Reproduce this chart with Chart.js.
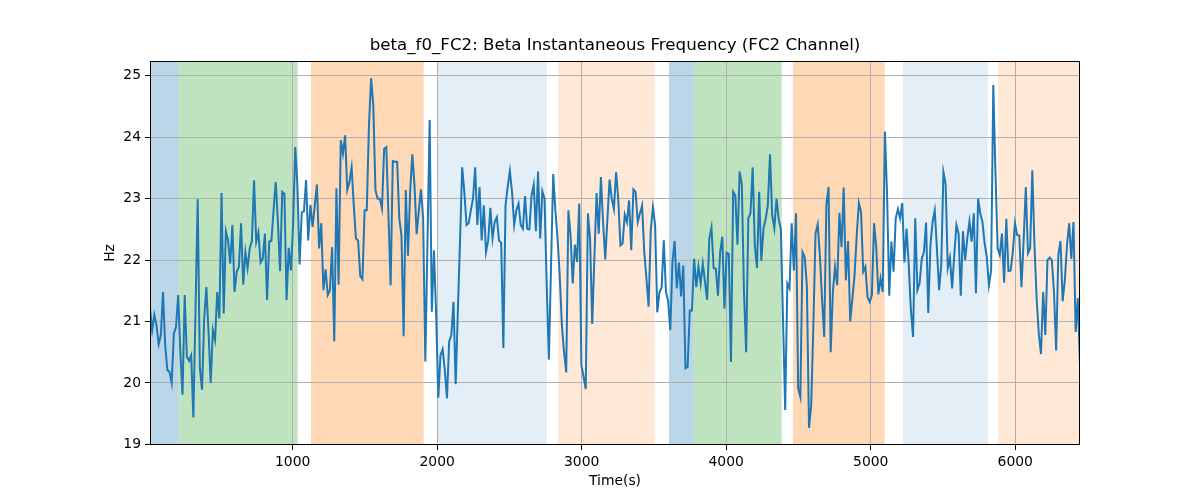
<!DOCTYPE html>
<html>
<head>
<meta charset="utf-8">
<script src="https://cdn.jsdelivr.net/npm/chart.js@4.4.1/dist/chart.umd.min.js"></script>
<style>
  html, body { margin: 0; padding: 0; background: #fff; }
  canvas { display: block; }
</style>
</head>
<body>
<canvas id="freqChart" width="1200" height="500"></canvas>
<script>
// Beta instantaneous frequency, FC2 channel (Hz), one sample every 15 s
const hzValues = [
    21.2, 20.86, 21.11, 20.94, 20.63, 20.78, 21.48, 20.62, 20.21, 20.18,
    20.0, 20.8, 20.91, 21.43, 20.5, 19.81, 21.43, 20.43, 20.36, 20.45,
    19.44, 21.2, 22.99, 20.24, 19.89, 21.05, 21.56, 20.83, 20.0, 20.86,
    20.7, 21.48, 21.05, 23.09, 21.13, 22.47, 22.32, 21.94, 22.57, 21.48,
    21.81, 21.89, 22.6, 21.6, 22.13, 21.87, 22.19, 22.31, 23.3, 22.3,
    22.45, 21.96,
    22.02, 22.43, 21.35, 22.3, 22.31, 22.81, 23.27, 22.62, 21.82, 23.11,
    23.08, 21.35, 22.2, 21.83, 22.57, 23.84, 23.22, 21.93, 22.78, 22.79,
    23.3, 22.32, 22.9, 22.54, 22.89, 23.23, 22.19, 22.6, 21.51, 21.85,
    21.43, 21.51, 22.21, 20.68, 23.17, 21.6, 23.95, 23.73, 24.03, 23.14,
    23.27, 23.51, 22.89, 22.35, 22.32, 21.74, 21.69, 22.81, 22.81, 24.19,
    24.96, 24.52, 23.14,
    23.0, 23.0, 22.84, 23.81, 23.84, 22.73, 21.59, 23.61, 23.6, 23.6,
    22.67, 22.4, 20.76, 23.14, 22.07, 23.11, 23.72, 23.22, 22.42, 22.81,
    23.15, 22.67, 20.35, 22.3, 24.28, 21.16, 22.16, 21.1, 19.76, 20.45,
    20.55, 20.21, 19.75, 20.67, 20.78, 21.32, 19.98, 21.16, 22.3, 23.51,
    23.11, 22.57, 22.6, 22.81, 23.0, 23.51, 22.57, 23.19, 22.32, 22.89,
    22.13, 22.32, 22.85, 22.35,
    22.62, 22.7, 22.32, 22.28, 20.57, 22.89, 23.19, 23.45, 23.11, 22.57,
    22.81, 22.92, 22.57, 22.51, 23.04, 22.51, 22.5, 23.05, 23.23, 22.47,
    23.44, 22.35, 23.12, 23.0, 21.59, 20.38, 21.92, 23.4, 22.81, 22.35,
    21.75, 20.94, 20.5, 20.17, 22.81, 22.4, 21.62, 22.25, 21.97, 22.92,
    20.29, 20.1, 19.9, 22.76, 22.35, 20.96, 22.05, 23.09, 22.43, 23.35,
    22.62, 22.01, 22.67, 23.31,
    23.0, 22.83, 23.43, 23.0, 22.24, 22.27, 22.74, 22.62, 22.97, 22.16,
    23.15, 23.11, 22.62, 22.76, 22.89, 22.13, 21.7, 21.24, 22.49, 22.86,
    22.57, 21.15, 21.48, 21.55, 22.32, 21.48, 21.34, 20.86, 21.97, 22.31,
    21.54, 21.96, 21.41, 21.91, 20.24, 20.26, 21.18, 21.18, 22.02, 21.56,
    21.89, 21.62, 21.94, 21.65, 21.35, 22.35, 22.53, 21.87, 21.86, 21.42,
    22.13, 22.38, 21.21,
    22.12, 22.1, 20.34, 23.11, 23.05, 22.25, 23.44, 23.23, 21.48, 20.5,
    22.68, 22.76, 23.51, 22.24, 21.87, 23.11, 21.99, 22.51, 22.67, 22.89,
    23.72, 22.73, 22.52, 23.0, 22.67, 22.51, 21.05, 19.56, 21.62, 21.54,
    22.6, 21.83, 22.76, 19.91, 19.77, 22.13, 22.05, 21.59, 19.27, 19.64,
    20.94, 22.43, 22.58, 22.08, 21.37, 20.75, 22.89, 23.19, 20.5, 21.48,
    21.89, 21.59, 22.77, 22.21,
    23.18, 21.67, 22.31, 21.0, 21.37, 21.75, 22.4, 22.93, 22.78, 21.81,
    21.89, 21.4, 21.32, 21.43, 22.6, 22.21, 21.44, 21.7, 21.48, 24.09,
    23.08, 21.42, 22.3, 21.81, 22.68, 22.83, 22.68, 22.93, 21.96, 22.51,
    21.92, 21.18, 20.75, 22.68, 21.51, 21.62, 22.02, 22.13, 22.61, 21.14,
    22.24, 22.62, 22.81, 22.19, 21.51, 21.92, 23.43, 23.24, 21.87, 22.04,
    21.54, 22.08, 22.57,
    22.43, 21.42, 22.47, 22.0, 22.35, 22.63, 22.3, 22.76, 21.46, 23.0,
    22.76, 22.62, 22.27, 22.05, 21.59, 21.83, 24.85, 23.43, 22.19, 22.08,
    22.43, 21.63, 22.67, 21.82, 21.83, 22.13, 22.6, 22.41, 22.4, 21.56,
    22.32, 23.19, 22.11, 22.19, 23.46, 22.24, 21.37, 20.8, 20.47, 21.48,
    20.78, 22.0, 22.04, 22.0, 21.48, 20.53, 22.08, 22.31, 21.33, 21.67,
    22.24, 22.6, 22.02, 22.62, 20.83, 21.38, 20.29
];
const sampleStart = 13;   // s
const sampleStep = 15;    // s

// shaded phases (seconds) and which phase type each one is
const spanStart = [13, 211, 1127, 2000, 2836, 3604, 3772, 4462, 5222, 5881];
const spanEnd   = [211, 1035, 1906, 2760, 3505, 3772, 4384, 5096, 5811, 6448];
const spanKind  = [0, 1, 2, 3, 4, 0, 1, 2, 3, 4];

const xTicks = [1000, 2000, 3000, 4000, 5000, 6000];
const yTicks = [19, 20, 21, 22, 23, 24, 25];

// phase fills
const kindFill = [
    'rgba(31, 119, 180, 0.3)',
    'rgba(44, 160, 44, 0.3)',
    'rgba(255, 127, 14, 0.3)',
    'rgba(31, 119, 180, 0.12)',
    'rgba(255, 127, 14, 0.17)'
];

const points = hzValues.map((v, i) => ({ x: sampleStart + i * sampleStep, y: v }));
const lastTime = sampleStart + (hzValues.length - 1) * sampleStep;

const FONT = '"DejaVu Sans", "Liberation Sans", sans-serif';

// shaded spans go under the grid
const spanPlugin = {
    id: 'spans',
    beforeDraw(chart) {
        const { ctx, chartArea, scales } = chart;
        ctx.save();
        for (let i = 0; i < spanStart.length; i++) {
            const x0 = scales.x.getPixelForValue(spanStart[i]);
            const x1 = scales.x.getPixelForValue(spanEnd[i]);
            ctx.fillStyle = kindFill[spanKind[i]];
            ctx.fillRect(x0, chartArea.top, x1 - x0, chartArea.bottom - chartArea.top);
        }
        ctx.restore();
    }
};

// frame, title and axis labels
const framePlugin = {
    id: 'frame',
    afterDraw(chart) {
        const { ctx, chartArea } = chart;
        ctx.save();
        ctx.strokeStyle = '#000';
        ctx.lineWidth = 1;
        ctx.strokeRect(chartArea.left + 0.5, chartArea.top + 0.5,
            chartArea.right - chartArea.left - 1, chartArea.bottom - chartArea.top - 1);

        const cx = (chartArea.left + chartArea.right) / 2;
        ctx.fillStyle = '#000';
        ctx.textAlign = 'center';
        ctx.textBaseline = 'middle';
        ctx.font = '16.67px ' + FONT;
        ctx.fillText('beta_f0_FC2: Beta Instantaneous Frequency (FC2 Channel)', cx, 46);

        ctx.font = '13.9px ' + FONT;
        ctx.fillText('Time(s)', cx, 481);

        ctx.translate(110, (chartArea.top + chartArea.bottom) / 2);
        ctx.rotate(-Math.PI / 2);
        ctx.fillText('Hz', 0, 0);
        ctx.restore();
    }
};

const ctx = document.getElementById('freqChart').getContext('2d');
new Chart(ctx, {
    type: 'line',
    data: {
        datasets: [{
            label: 'beta_f0_FC2',
            data: points,
            borderColor: '#1f77b4',
            borderWidth: 2,
            pointRadius: 0,
            tension: 0,
            fill: false
        }]
    },
    options: {
        responsive: false,
        animation: false,
        layout: { padding: { top: 61, right: 120, bottom: 0, left: 0 } },
        plugins: {
            legend: { display: false },
            tooltip: { enabled: false },
            title: { display: false }
        },
        scales: {
            x: {
                type: 'linear',
                min: sampleStart,
                max: lastTime,
                afterBuildTicks: (scale) => { scale.ticks = xTicks.map(v => ({ value: v })); },
                afterFit: (scale) => { scale.height = 55; },
                grid: { color: '#b0b0b0', lineWidth: 1, tickColor: '#000', tickLength: 5 },
                border: { display: false },
                ticks: {
                    color: '#000',
                    font: { family: FONT, size: 13.9 },
                    padding: 4,
                    maxRotation: 0,
                    autoSkip: false,
                    callback: (v) => String(v)
                }
            },
            y: {
                min: 18.99,
                max: 25.24,
                afterBuildTicks: (scale) => { scale.ticks = yTicks.map(v => ({ value: v })); },
                afterFit: (scale) => { scale.width = 150; },
                grid: { color: '#b0b0b0', lineWidth: 1, tickColor: '#000', tickLength: 5 },
                border: { display: false },
                ticks: {
                    color: '#000',
                    font: { family: FONT, size: 13.9 },
                    padding: 4,
                    autoSkip: false,
                    callback: (v) => String(v)
                }
            }
        }
    },
    plugins: [spanPlugin, framePlugin]
});
</script>
</body>
</html>
